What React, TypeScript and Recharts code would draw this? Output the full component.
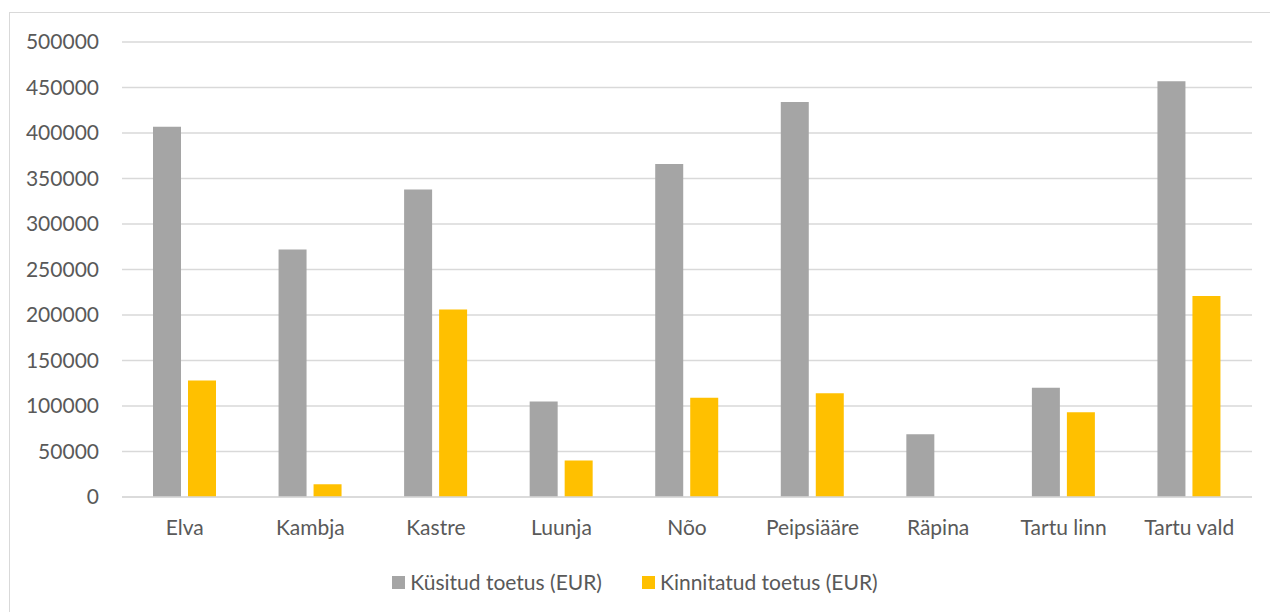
import React from 'react';
import { BarChart, Bar, XAxis, YAxis, CartesianGrid } from 'recharts';

const categories = ['Elva', 'Kambja', 'Kastre', 'Luunja', 'Nõo', 'Peipsiääre', 'Räpina', 'Tartu linn', 'Tartu vald'];
const requested = [407000, 272000, 338000, 105000, 366000, 434000, 69000, 120000, 457000];
const approved = [128000, 14000, 206000, 40000, 109000, 114000, 0, 93000, 221000];
const yTicks = [0, 50000, 100000, 150000, 200000, 250000, 300000, 350000, 400000, 450000, 500000];

const seriesNames = ['Küsitud toetus (EUR)', 'Kinnitatud toetus (EUR)'];
const seriesColors = ['#A5A5A5', '#FFC000'];

const data = categories.map((name, i) => ({
    name,
    requested: requested[i],
    approved: approved[i],
}));

const FONT = 'Lato, "Open Sans", sans-serif';
const TEXT = '#595959';

export default function App() {
    return (
        <div style={{ position: 'absolute', left: 0, top: 0, width: 1270, height: 612, background: '#fff', overflow: 'hidden', fontFamily: FONT }}>
            {/* chart frame */}
            <div style={{ position: 'absolute', left: 9, top: 12, width: 1300, height: 700, border: '1.5px solid #D9D9D9' }} />

            <div style={{ position: 'absolute', left: 0, top: 0 }}>
                <BarChart
                    width={1270}
                    height={612}
                    data={data}
                    margin={{ top: 42, right: 18, bottom: 85, left: 0 }}
                    barSize={28}
                    barGap={7}
                >
                    <CartesianGrid vertical={false} stroke="#D9D9D9" strokeWidth={1.3} />
                    <XAxis
                        dataKey="name"
                        height={30}
                        tickLine={false}
                        axisLine={{ stroke: '#D9D9D9', strokeWidth: 1.5 }}
                        tickSize={0}
                        tickMargin={23}
                        tick={{ fill: TEXT, fontSize: 21, fontFamily: FONT }}
                        interval={0}
                    />
                    <YAxis
                        width={122}
                        domain={[0, 500000]}
                        ticks={yTicks}
                        axisLine={false}
                        tickLine={false}
                        tickSize={0}
                        tickMargin={23}
                        tick={{ fill: TEXT, fontSize: 21, fontFamily: FONT }}
                        interval={0}
                    />
                    <Bar dataKey="requested" name={seriesNames[0]} fill={seriesColors[0]} isAnimationActive={false} />
                    <Bar dataKey="approved" name={seriesNames[1]} fill={seriesColors[1]} isAnimationActive={false} />
                </BarChart>
            </div>

            {/* legend */}
            <div style={{ position: 'absolute', left: 0, top: 570, width: 1270, display: 'flex', justifyContent: 'center', gap: 40, color: TEXT, fontSize: 21, lineHeight: '24px' }}>
                {seriesNames.map((n, i) => (
                    <div key={n} style={{ display: 'flex', alignItems: 'center', gap: 5 }}>
                        <span style={{ width: 13, height: 13, background: seriesColors[i], display: 'inline-block' }} />
                        <span>{n}</span>
                    </div>
                ))}
            </div>
        </div>
    );
}
